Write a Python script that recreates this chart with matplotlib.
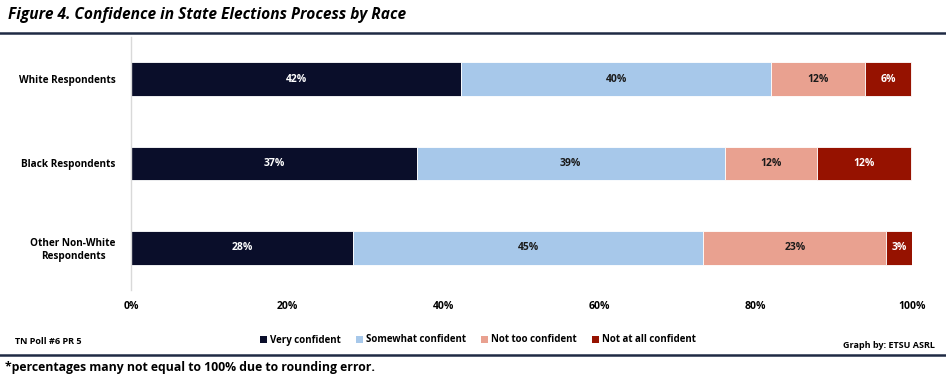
import matplotlib.pyplot as plt
import numpy as np
from matplotlib.patches import Patch
from matplotlib.lines import Line2D

plt.rcParams['font.family'] = ['Open Sans', 'DejaVu Sans']

# data
groups = ['White Respondents', 'Black Respondents', 'Other Non-White\nRespondents']
levels = ['Very confident', 'Somewhat confident', 'Not too confident', 'Not at all confident']
very = [42.3, 36.6, 28.4]
somewhat = [39.7, 39.4, 44.9]
not_too = [12.0, 11.9, 23.4]
not_at_all = [5.9, 12.0, 3.3]
colors = ['#0a0e2a', '#a7c8ea', '#e9a190', '#961200']
label_colors = ['white', '#1a1a1a', '#1a1a1a', 'white']

fig = plt.figure(figsize=(9.46, 3.81), dpi=100)
ax = fig.add_axes([131/946, 1 - 290/381, 781/946, 253/381])

ypos = np.arange(len(groups))[::-1]
left = np.zeros(len(groups))
for vals, c, lc, name in zip([very, somewhat, not_too, not_at_all], colors, label_colors, levels):
    vals = np.array(vals)
    ax.barh(ypos, vals, left=left, height=0.4, color=c, edgecolor='white', linewidth=0.6, label=name)
    for y, l, v in zip(ypos, left, vals):
        ax.text(l + v / 2, y, f'{round(v):.0f}%', ha='center', va='center',
                color=lc, fontsize=7.5, fontweight='bold')
    left += vals

ax.set_xlim(0, 100)
ax.set_ylim(-0.5, 2.5)
ax.set_xticks([0, 20, 40, 60, 80, 100])
ax.set_xticklabels([f'{t}%' for t in [0, 20, 40, 60, 80, 100]], fontsize=7.5, fontweight='bold')
ax.set_yticks(ypos)
ax.set_yticklabels(groups, fontsize=7.2, fontweight='bold')
for lab in ax.get_yticklabels():
    lab.set_multialignment('center')
ax.tick_params(axis='both', length=0)
ax.tick_params(axis='x', pad=8)
ax.tick_params(axis='y', pad=11)
for s in ['top', 'right', 'bottom']:
    ax.spines[s].set_visible(False)
ax.spines['left'].set_color('#d9d9d9')
ax.spines['left'].set_linewidth(1.0)

# title and rules
fig.text(8/946, 1 - 15/381, 'Figure 4. Confidence in State Elections Process by Race',
         fontsize=11.2, fontweight='bold', style='italic', va='center', ha='left')
fig.add_artist(Line2D([0, 1], [1 - 33/381, 1 - 33/381], color='#1f2a44', linewidth=1.8))
fig.add_artist(Line2D([0, 1], [1 - 355/381, 1 - 355/381], color='#1f2a44', linewidth=1.8))

handles = [Patch(facecolor=c, label=n) for c, n in zip(colors, levels)]
fig.legend(handles=handles, loc='center', bbox_to_anchor=(0.505, 1 - 340/381), ncol=4,
           frameon=False, prop={'size': 7, 'weight': 'bold'}, handlelength=0.7, handleheight=0.7,
           handletextpad=0.3, columnspacing=1.6)

fig.text(15/946, 1 - 341/381, 'TN Poll #6 PR 5', fontsize=6.5, fontweight='bold', va='center', ha='left')
fig.text(935/946, 1 - 345/381, 'Graph by: ETSU ASRL', fontsize=6.5, fontweight='bold', va='center', ha='right')
fig.text(5/946, 1 - 367/381, '*percentages many not equal to 100% due to rounding error.',
         fontsize=8.8, fontweight='bold', va='center', ha='left')

plt.savefig('out.png', dpi=100)
